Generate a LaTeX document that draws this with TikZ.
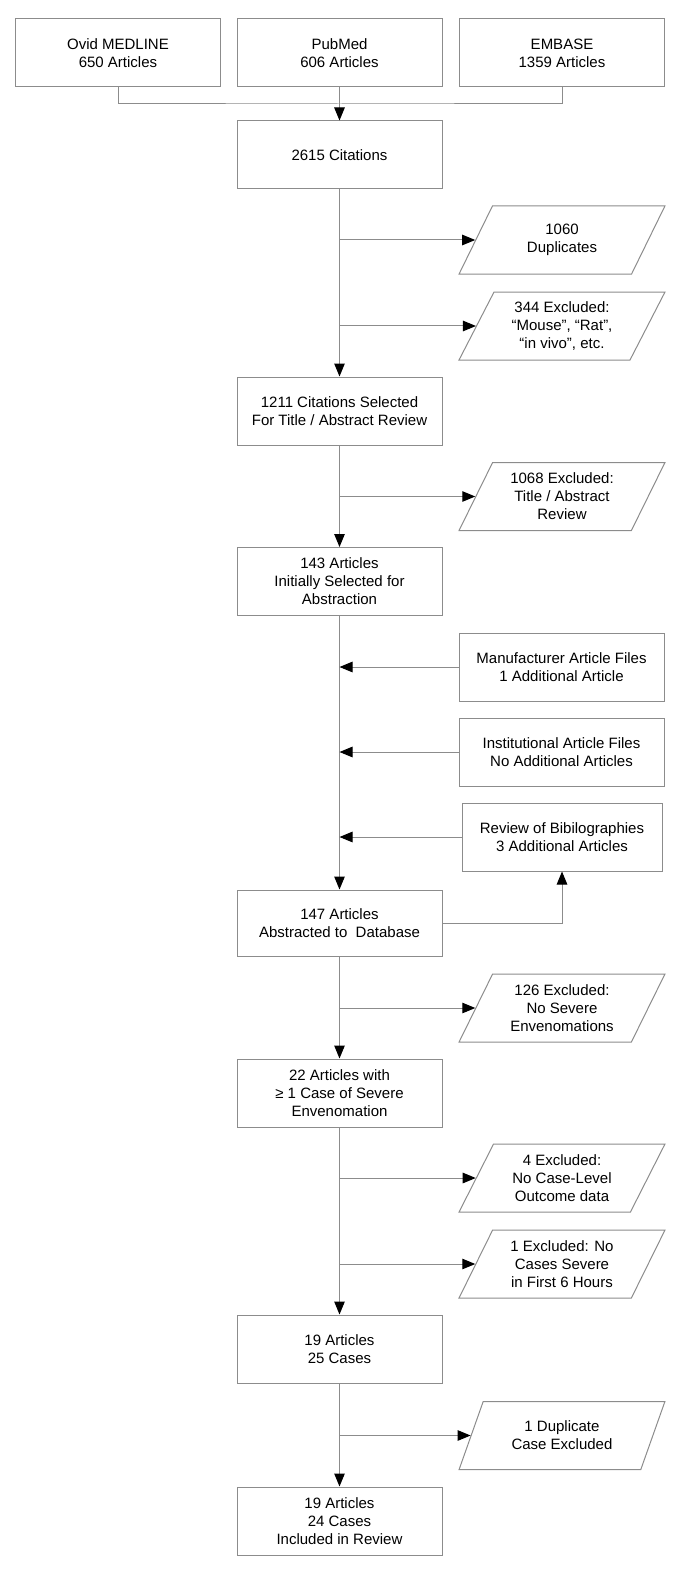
\documentclass[tikz,border=0pt]{standalone}
\usepackage{fontspec}
\setmainfont{Liberation Sans}
\usepackage{tikz}
\usepackage{xcolor}
\usetikzlibrary{shapes.geometric,arrows.meta,positioning,calc}
\definecolor{linegray}{RGB}{140,140,140}

\tikzset{
    box/.style={draw=linegray, line width=1pt, minimum width=205pt, minimum height=68pt,
        inner sep=0pt, align=center, font=\fontsize{15}{18}\selectfont},
    exclbox/.style={draw=linegray, line width=1pt, trapezium, trapezium left angle=62,
        trapezium right angle=118, trapezium stretches=true, minimum width=206pt,
        minimum height=68pt, inner sep=0pt, align=center, font=\fontsize{15}{18}\selectfont},
    link/.style={draw=linegray, line width=1pt},
    arr/.style={link, -{Triangle[length=13pt,width=10.5pt,color=black]}}
}

\begin{document}
\begin{tikzpicture}[x=1pt,y=1pt]
    \useasboundingbox (0,0) rectangle (685,-1570);

    % Sources
    \node[box] (ovid) at (118,-53) {Ovid MEDLINE\\650 Articles};
    \node[box] (pubmed) at (339.5,-53) {PubMed\\606 Articles};
    \node[box] (embase) at (562,-53) {EMBASE\\1359 Articles};
    \coordinate (bus) at (339.5,-104);

    % Main column
    \node[box] (cit) at (339.5,-155) {2615 Citations};
    \node[box] (sel) at (339.5,-411) {1211 Citations Selected\\For Title / Abstract Review};
    \node[box] (init) at (339.5,-581.5) {143 Articles\\Initially Selected for\\Abstraction};
    \node[box, minimum height=66pt] (abs) at (339.5,-923) {147 Articles\\Abstracted to\ \ Database};
    \node[box] (sev) at (339.5,-1093) {22 Articles with\\≥ 1 Case of Severe\\Envenomation};
    \node[box] (cases) at (339.5,-1349) {19 Articles\\25 Cases};
    \node[box] (final) at (339.5,-1521) {19 Articles\\24 Cases\\Included in Review};

    % Exclusions
    \node[exclbox] (dup) at (562,-240) {1060\\Duplicates};
    \node[exclbox] (mouse) at (562,-326) {344 Excluded:\\“Mouse”, “Rat”,\\“in vivo”, etc.};
    \node[exclbox] (ex1068) at (562,-496.5) {1068 Excluded:\\Title / Abstract\\Review};
    \node[exclbox] (ex126) at (562,-1008) {126 Excluded:\\No Severe\\Envenomations};
    \node[exclbox] (ex4) at (562,-1178) {4 Excluded:\\No Case-Level\\Outcome data};
    \node[exclbox] (ex1) at (562,-1264) {1 Excluded: No\\Cases Severe\\in First 6 Hours};
    \node[exclbox] (exdup) at (562,-1435.5) {1 Duplicate\\Case Excluded};

    % Additional sources
    \node[box] (manuf) at (561.5,-667) {Manufacturer Article Files\\1 Additional Article};
    \node[box] (inst) at (561.5,-752) {Institutional Article Files\\No Additional Articles};
    \node[box, minimum width=200pt] (bib) at (562,-837) {Review of Bibilographies\\3 Additional Articles};

    % Merge of sources
    \draw[link] (ovid.south) |- (bus) -| (embase.south);
    \draw[arr] (pubmed.south) -- (cit.north);

    % Main flow
    \draw[arr] (cit.south) -- (sel.north);
    \draw[arr] (sel.south) -- (init.north);
    \draw[arr] (init.south) -- (abs.north);
    \draw[arr] (abs.south) -- (sev.north);
    \draw[arr] (sev.south) -- (cases.north);
    \draw[arr] (cases.south) -- (final.north);

    % Branches out
    \foreach \n/\m in {dup/cit, mouse/cit, ex1068/sel, ex126/abs, ex4/sev, ex1/sev, exdup/cases}
        \draw[arr] (\n.west -| \m.south) -- (\n.west);

    % Branches in
    \foreach \n in {manuf, inst, bib}
        \draw[arr] (\n.west) -- (\n.west -| init.south);
    \draw[arr] (abs.east) -| (bib.south);

\end{tikzpicture}
\end{document}
